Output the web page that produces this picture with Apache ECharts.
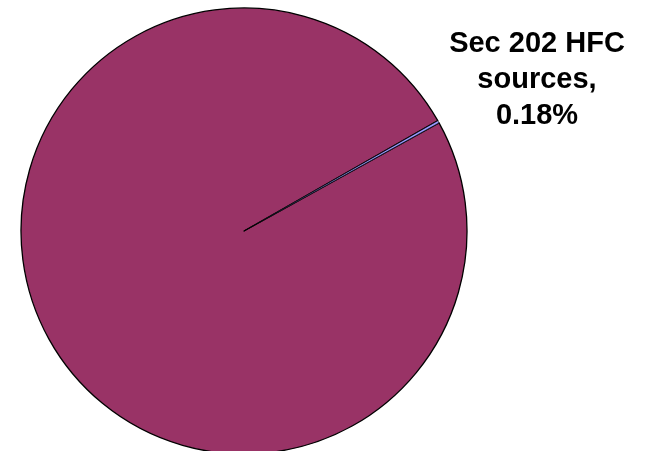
<!DOCTYPE html>
<html>
<head>
<meta charset="utf-8">
<script src="https://cdn.jsdelivr.net/npm/echarts@6/dist/echarts.min.js"></script>
<style>
  html, body { margin: 0; padding: 0; background: #ffffff; }
  #chart { width: 648px; height: 451px; }
</style>
</head>
<body>
<div id="chart"></div>
<script>
// Share of emissions by source category (percent)
const categories = ['Other sources', 'Sec 202 HFC sources'];
const shares = [99.82, 0.18];
const sliceColors = ['#993366', '#9999FF'];

const chart = echarts.init(document.getElementById('chart'), null, { renderer: 'canvas' });

// The small slice is drawn last so its fill sits on top of the large slice's outline
const data = categories.map((name, i) => ({
  name: name,
  value: shares[i],
  itemStyle: {
    color: sliceColors[i],
    borderColor: '#000000',
    borderWidth: i === 0 ? 1.3 : 0.7
  },
  label: { show: i === 1 }
}));

chart.setOption({
  animation: false,
  backgroundColor: '#ffffff',
  series: [{
    type: 'pie',
    center: [244, 231],
    radius: 223,
    startAngle: 29.0,
    clockwise: true,
    avoidLabelOverlap: false,
    label: {
      position: 'outside',
      fontFamily: 'Liberation Sans, Arial, sans-serif',
      fontWeight: 'bold',
      fontSize: 29,
      lineHeight: 36,
      color: '#000000',
      align: 'center',
      formatter: function (p) {
        return p.name.replace(' sources', '\nsources') + ',\n' + p.value.toFixed(2) + '%';
      }
    },
    labelLine: { show: false },
    labelLayout: { x: 537, y: 80, align: 'center', verticalAlign: 'middle' },
    emphasis: { disabled: true },
    data: data
  }]
});
</script>
</body>
</html>
